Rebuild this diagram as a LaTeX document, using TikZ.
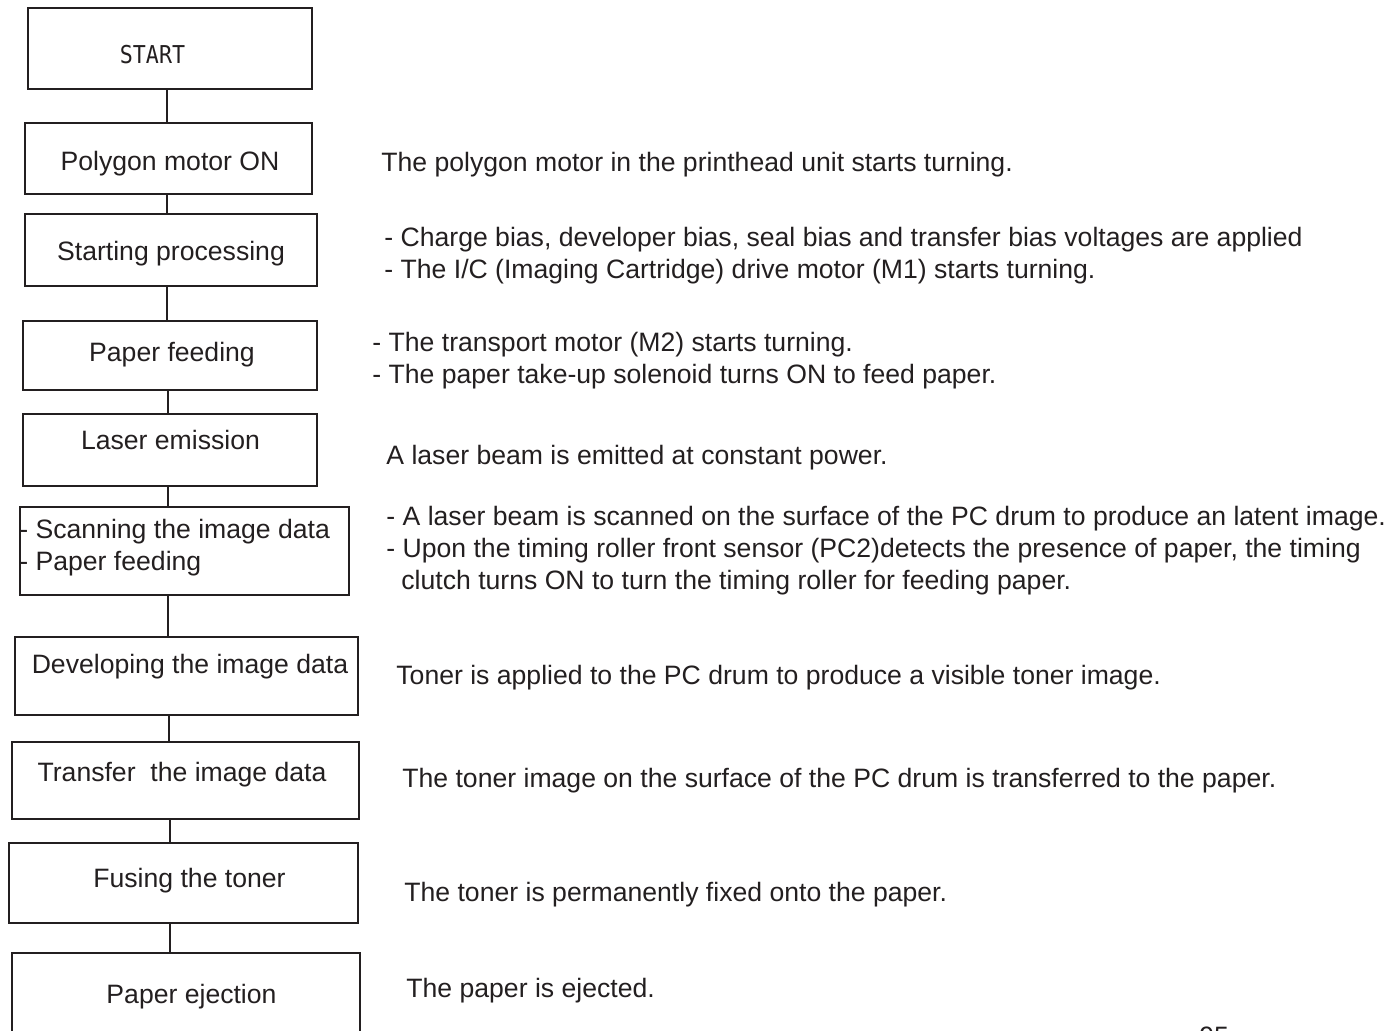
\documentclass[tikz,border=0pt]{standalone}
\usepackage{fontspec}
\setmainfont{Liberation Sans}
\newfontfamily\startfont[FakeStretch=0.88]{DejaVu Sans Mono}
\usepackage{tikz}
\definecolor{ink}{RGB}{35,31,32}

\begin{document}
\begin{tikzpicture}[x=0.5pt,y=-0.5pt]
	\tikzstyle{stepbox}=[rectangle,draw=ink,line width=1.3pt,inner sep=0pt,outer sep=0pt]
	\tikzstyle{link}=[draw=ink,line width=1.3pt]
	\tikzstyle{txt}=[text=ink,inner sep=0pt,anchor=base,font=\fontsize{13.3}{16}\selectfont]
	\tikzstyle{note}=[txt,anchor=base west]
	\useasboundingbox (0,0) rectangle (1393,1031);
	% boxes
	\node[stepbox,minimum width=142pt,minimum height=40.5pt](start) at (170,48.5) {};
	\node[stepbox,minimum width=143.5pt,minimum height=35.5pt](poly) at (168.5,158.5) {};
	\node[stepbox,minimum width=146pt,minimum height=36pt](proc) at (171,250) {};
	\node[stepbox,minimum width=147pt,minimum height=34.5pt](feed) at (170,355.5) {};
	\node[stepbox,minimum width=147pt,minimum height=36pt](laser) at (170,450) {};
	\node[stepbox,minimum width=164.5pt,minimum height=44pt](scan) at (184.5,551) {};
	\node[stepbox,minimum width=171.5pt,minimum height=39pt](devel) at (186.5,676) {};
	\node[stepbox,minimum width=173.5pt,minimum height=38.5pt](trans) at (185.5,780.5) {};
	\node[stepbox,minimum width=174.5pt,minimum height=40pt](fuse) at (183.5,883) {};
	\node[stepbox,minimum width=174pt,minimum height=46pt](eject) at (186,999) {};
	% texts in the boxes
	\node[txt,font=\startfont\fontsize{12.3}{15}\selectfont](tstart) at (152.5,64) {START};
	\node[txt](tpoly) at (170,171) {Polygon motor ON};
	\node[txt](tproc) at (171,261) {Starting processing};
	\node[txt](tfeed) at (172,362) {Paper feeding};
	\node[txt](tlaser) at (170.5,450) {Laser emission};
	\node[note](tscan1) at (19,539) {- Scanning the image data};
	\node[note](tscan2) at (19,571) {- Paper feeding};
	\node[txt](tdevel) at (190,674) {Developing the image data};
	\node[txt](ttrans) at (182,782) {Transfer\ \ the image data};
	\node[txt](tfuse) at (189.5,887) {Fusing the toner};
	\node[txt](teject) at (191.5,1003) {Paper ejection};
	% connectors
	\foreach \a/\b/\x in {start/poly/167,poly/proc/167,proc/feed/167,feed/laser/168,laser/scan/168,scan/devel/168,devel/trans/169,trans/fuse/170,fuse/eject/170}
		\draw[link](\a.south -| \x,0) -- (\b.north -| \x,0);
	% notes on the right
	\node[note](n1) at (381,172) {The polygon motor in the printhead unit starts turning.};
	\node[note](n2a) at (384,247) {- Charge bias, developer bias, seal bias and transfer bias voltages are applied};
	\node[note](n2b) at (384,279) {- The I/C (Imaging Cartridge) drive motor (M1) starts turning.};
	\node[note](n3a) at (372,352) {- The transport motor (M2) starts turning.};
	\node[note](n3b) at (372,384) {- The paper take-up solenoid turns ON to feed paper.};
	\node[note](n4) at (386,465) {A laser beam is emitted at constant power.};
	\node[note](n5a) at (386,526) {- A laser beam is scanned on the surface of the PC drum to produce an latent image.};
	\node[note](n5b) at (386,558) {- Upon the timing roller front sensor (PC2)detects the presence of paper, the timing};
	\node[note](n5c) at (401,590) {clutch turns ON to turn the timing roller for feeding paper.};
	\node[note](n6) at (396,685) {Toner is applied to the PC drum to produce a visible toner image.};
	\node[note](n7) at (402,788) {The toner image on the surface of the PC drum is transferred to the paper.};
	\node[note](n8) at (404,901) {The toner is permanently fixed onto the paper.};
	\node[note](n9) at (406,997) {The paper is ejected.};
	\node[note](page) at (1199,1045) {95};
\end{tikzpicture}
\end{document}
